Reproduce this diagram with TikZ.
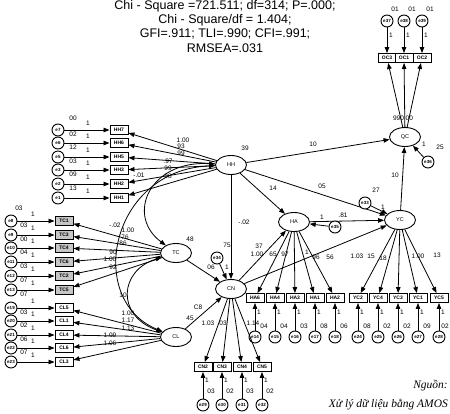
\documentclass[tikz,border=0pt]{standalone}
\usepackage{fontspec}
\setmainfont{Liberation Sans}
\newfontfamily\srcfont{Liberation Serif}
\usetikzlibrary{shapes.geometric,arrows.meta}
\begin{document}
\begin{tikzpicture}[x=1pt,y=-1pt,
  lat/.style={ellipse,draw,line width=0.9pt,minimum width=31pt,minimum height=19pt,inner sep=0pt,fill=white,font=\fontsize{5.5}{6}\selectfont},
  obs/.style={rectangle,draw,line width=0.9pt,minimum width=18pt,minimum height=9pt,inner sep=0pt,fill=white,font=\fontsize{5}{5}\selectfont\bfseries},
  obsg/.style={obs,fill=gray!45},
  err/.style={circle,draw,line width=0.9pt,minimum size=12pt,inner sep=0pt,fill=white,font=\fontsize{4.5}{5}\selectfont\bfseries},
  lbl/.style={inner sep=0pt,font=\fontsize{6.5}{7}\selectfont},
  arr/.style={-{Triangle[length=6pt,width=4.5pt]},line width=0.8pt},
  darr/.style={{Triangle[length=6pt,width=4.5pt]}-{Triangle[length=6pt,width=4.5pt]},line width=0.8pt},
  hdr/.style={inner sep=0pt,font=\fontsize{12.5}{13}\selectfont},
  src/.style={inner sep=0pt,anchor=east,font=\srcfont\itshape\fontsize{11.5}{12}\selectfont}
]
\useasboundingbox (0,0) rectangle (450,413);

% header
\node[hdr] (h1) at (225,6) {Chi - Square =721.511; df=314; P=.000;};
\node[hdr] (h2) at (225,20) {Chi - Square/df = 1.404;};
\node[hdr] (h3) at (225,34) {GFI=.911; TLI=.990; CFI=.991;};
\node[hdr] (h4) at (225,48) {RMSEA=.031};

% latent variables
\node[lat] (HH) at (231,165) {HH};
\node[lat] (QC) at (405,137) {QC};
\node[lat] (HA) at (294,222) {HA};
\node[lat] (YC) at (400,220) {YC};
\node[lat] (TC) at (176,253) {TC};
\node[lat] (CN) at (231,289) {CN};
\node[lat] (CL) at (176,337) {CL};

% covariances
\draw[darr] (HH) .. controls (150,160) and (125,215) .. (TC);
\draw[darr] (HH) .. controls (110,170) and (85,300) .. (CL);
\draw[darr] (TC) .. controls (120,270) and (115,315) .. (CL);

% HH indicators
\foreach \i/\t/\y/\e/\v in {1/HH7/130/e7/02, 2/HH6/143/e6/12, 3/HH5/157/e5/03, 4/HH3/170/e3/09, 5/HH2/184/e2/13, 6/HH1/198/e1/{}} {
  \node[obs] (hhb\i) at (119,\y) {\t};
  \node[err] (hhe\i) at (58,\y) {\e};
  \draw[arr] (hhe\i) -- (hhb\i);
  \draw[arr] (HH) -- (hhb\i);
  \node[lbl] at (88,\y-7) {1};
  \node[lbl] at (73,\y+4) {\v};
}
\node[lbl] at (73,118) {00};

% TC indicators
\foreach \i/\t/\y/\e/\v in {1/TC1/221/e8/03, 2/TC3/235/e9/00, 3/TC4/248/e10/04, 4/TC6/262/e11/03, 5/TC2/276/e12/07, 6/TC5/290/e13/07} {
  \node[obsg] (tcb\i) at (64,\y) {\t};
  \node[err] (tce\i) at (11,\y) {\e};
  \draw[arr] (tce\i) -- (tcb\i);
  \draw[arr] (TC) -- (tcb\i);
  \node[lbl] at (33,\y-7) {1};
  \node[lbl] at (24,\y+4) {\v};
}
\node[lbl] at (19,208) {03};

% CL indicators
\foreach \i/\t/\y/\e/\v in {1/CL5/308/e19/03, 2/CL1/321/e20/02, 3/CL4/335/e21/06, 4/CL6/348/e22/07, 5/CL3/362/e23/{}} {
  \node[obs] (clb\i) at (64,\y) {\t};
  \node[err] (cle\i) at (11,\y) {\e};
  \draw[arr] (cle\i) -- (clb\i);
  \draw[arr] (CL) -- (clb\i);
  \node[lbl] at (33,\y-7) {1};
  \node[lbl] at (24,\y+4) {\v};
}

% HA indicators
\foreach \i/\t/\x/\e/\v in {1/HA6/255/e14/04, 2/HA4/275/e15/04, 3/HA3/295/e16/03, 4/HA1/315/e17/08, 5/HA2/335/e18/06} {
  \node[obs] (hab\i) at (\x,298) {\t};
  \node[err] (hae\i) at (\x,337) {\e};
  \draw[arr] (hae\i) -- (hab\i);
  \draw[arr] (HA) -- (hab\i);
  \node[lbl] at (\x+4,312) {1};
  \node[lbl] at (\x+9,326) {\v};
}

% YC indicators
\foreach \i/\t/\x/\e/\v in {1/YC2/358/e24/08, 2/YC4/378/e25/02, 3/YC3/398/e26/02, 4/YC1/418/e27/09, 5/YC5/439/e28/02} {
  \node[obs] (ycb\i) at (\x,298) {\t};
  \node[err] (yce\i) at (\x,337) {\e};
  \draw[arr] (yce\i) -- (ycb\i);
  \draw[arr] (YC) -- (ycb\i);
  \node[lbl] at (\x+4,312) {1};
}
\foreach \x/\v in {358/08, 378/02, 398/02, 418/09} {
  \node[lbl] at (\x+9,326) {\v};
}
\node[lbl] at (445,326) {02};

% CN indicators
\foreach \i/\t/\x/\e/\v in {1/CN2/203/e29/03, 2/CN3/222/e30/02, 3/CN4/242/e31/03, 4/CN5/262/e32/02} {
  \node[obs] (cnb\i) at (\x,367) {\t};
  \node[err] (cne\i) at (\x,405) {\e};
  \draw[arr] (cne\i) -- (cnb\i);
  \draw[arr] (CN) -- (cnb\i);
  \node[lbl] at (\x+4,380) {1};
  \node[lbl] at (\x+8,391) {\v};
}

% QC indicators
\foreach \i/\t/\x/\e in {1/OC3/387/e37, 2/OC1/404/e38, 3/OC2/422/e39} {
  \node[obs] (qcb\i) at (\x,58) {\t};
  \node[err] (qce\i) at (\x,21) {\e};
  \draw[arr] (qce\i) -- (qcb\i);
  \draw[arr] (QC) -- (qcb\i);
  \node[lbl] at (\x+4,35) {1};
  \node[lbl] at (\x+8,9) {01};
}

% structural paths
\draw[arr] (HH) -- (QC);
\draw[arr] (HH) -- (YC);
\draw[arr] (HH) -- (HA);
\draw[arr] (HH) -- (CN);
\draw[arr] (TC) -- (CN);
\draw[arr] (CL) -- (CN);
\draw[arr] (CN) -- (HA);
\draw[arr] (CN) -- (YC);
\draw[arr] (HA) -- (YC);
\draw[arr] (YC) -- (QC);

% disturbances
\node[err] (e34) at (217,258) {e34};
\node[err] (e35) at (335,227) {e35};
\node[err] (e33) at (365,203) {e33};
\node[err] (e36) at (428,162) {e36};
\draw[arr] (e34) -- (CN);
\draw[arr] (e35) -- (HA);
\draw[arr] (e33) -- (YC);
\draw[arr] (e36) -- (QC);

% path / variance labels
\node[lbl] at (245,148) {39};
\node[lbl] at (313,144) {10};
\node[lbl] at (322,186) {05};
\node[lbl] at (273,188) {14};
\node[lbl] at (244,222) {-.02};
\node[lbl] at (227,245) {75};
\node[lbl] at (211,267) {06};
\node[lbl] at (227,267) {1};
\node[lbl] at (190,239) {48};
\node[lbl] at (259,246) {37};
\node[lbl] at (257,254) {1.00};
\node[lbl] at (273,254) {65};
\node[lbl] at (285,254) {97};
\node[lbl] at (307,252) {1};
\node[lbl] at (316,257) {96};
\node[lbl] at (330,257) {56};
\node[lbl] at (322,217) {1};
\node[lbl] at (343,215) {.81};
\node[lbl] at (376,190) {27};
\node[lbl] at (383,207) {1};
\node[lbl] at (395,175) {10};
\node[lbl] at (440,147) {25};
\node[lbl] at (424,144) {1};
\node[lbl] at (403,118) {990 00};
\node[lbl] at (357,256) {1.03};
\node[lbl] at (371,256) {15};
\node[lbl] at (383,258) {18};
\node[lbl] at (418,256) {1.00};
\node[lbl] at (437,255) {13};
% HH loadings
\node[lbl] at (183,140) {1.00};
\node[lbl] at (181,146) {93};
\node[lbl] at (181,153) {99};
\node[lbl] at (168,161) {.97};
\node[lbl] at (168,168) {99};
\node[lbl] at (139,175) {-.01};
\node[lbl] at (168,176) {98};
% TC loadings
\node[lbl] at (115,225) {-.02};
\node[lbl] at (128,230) {1.00};
\node[lbl] at (125,237) {76};
\node[lbl] at (123,243) {86};
\node[lbl] at (113,252) {90};
\node[lbl] at (110,259) {1.00};
\node[lbl] at (113,267) {92};
\node[lbl] at (123,295) {10};
% CL loadings
\node[lbl] at (128,313) {1.00};
\node[lbl] at (128,320) {1.17};
\node[lbl] at (128,328) {1.13};
\node[lbl] at (110,335) {1.09};
\node[lbl] at (110,343) {1.06};
\node[lbl] at (198,307) {C8};
\node[lbl] at (190,318) {45};
% CN loadings
\node[lbl] at (208,323) {1.03};
\node[lbl] at (223,323) {03};
\node[lbl] at (253,323) {1.14};

% source note
\node[src] (n1) at (448,386) {Nguồn:};
\node[src] (n2) at (448,405) {Xử lý dữ liệu bằng AMOS};
\end{tikzpicture}
\end{document}
